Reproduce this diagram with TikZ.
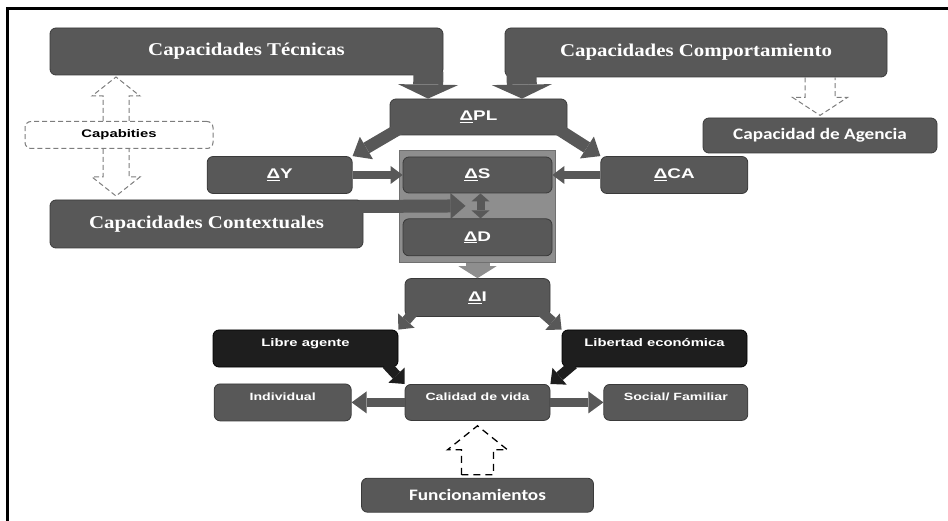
\documentclass[tikz,border=0pt]{standalone}
\usepackage{fontspec}
\usepackage{tikz}
\usetikzlibrary{arrows.meta,positioning,calc,fit,backgrounds}

\newfontfamily\serifhead[FakeStretch=1.16]{Liberation Serif}
\newfontfamily\widesans[FakeStretch=1.35]{Liberation Sans}
\newfontfamily\calsans[FakeStretch=1.2]{Carlito}

\definecolor{boxgray}{RGB}{88,88,88}
\definecolor{boxedge}{RGB}{58,58,58}
\definecolor{darkbox}{RGB}{30,30,30}
\definecolor{panelgray}{RGB}{142,142,142}
\definecolor{paneledge}{RGB}{112,112,112}
\definecolor{dashgray}{RGB}{125,125,125}

\begin{document}
\begin{tikzpicture}[x=1pt,y=-1pt,
		graybox/.style={rectangle,rounded corners=6pt,draw=boxedge,fill=boxgray,text=white,inner sep=0pt,line width=0.8pt},
		headbox/.style={graybox,font=\serifhead\bfseries\fontsize{18}{20}\selectfont},
		deltabox/.style={graybox,minimum width=147pt,minimum height=37pt,font=\widesans\bfseries\fontsize{14}{16}\selectfont},
		smallbox/.style={graybox,minimum height=36pt,text height=8pt,text depth=11pt,font=\widesans\bfseries\fontsize{10.5}{12}\selectfont},
		blackbox/.style={smallbox,fill=darkbox,draw=black,font=\widesans\bfseries\fontsize{11}{13}\selectfont},
		calbox/.style={graybox,font=\calsans\bfseries\fontsize{16}{18}\selectfont},
		capbox/.style={rectangle,rounded corners=6pt,draw=dashgray,dash pattern=on 5pt off 3pt,line width=1pt,text=black,minimum width=188pt,minimum height=27pt,font=\widesans\bfseries\fontsize{11}{13}\selectfont},
		panel/.style={rectangle,draw=paneledge,fill=panelgray,line width=1pt},
		fatarrow/.style args={#1/#2/#3}{draw=boxgray,line width=#1,-{Triangle[width=#2,length=#3,line width=0pt]}},
		fatboth/.style args={#1/#2/#3}{draw=boxgray,line width=#1,{Triangle[width=#2,length=#3,line width=0pt]}-{Triangle[width=#2,length=#3,line width=0pt]}},
		dashedarrow/.style={draw=dashgray,dash pattern=on 5pt off 3pt,line width=1pt}]

	\useasboundingbox (0,0) rectangle (948,521);
	\draw[line width=3pt] (7.5,521) -- (7.5,8.5) -- (948,8.5);

	\node[headbox,minimum width=393pt,minimum height=47pt] (Tec) at (246.5,51.5) {Capacidades Técnicas};
	\node[headbox,minimum width=382pt,minimum height=49pt] (Comp) at (696,52.5) {Capacidades Comportamiento};
	\node[deltabox,minimum width=177pt,minimum height=36pt] (PL) at (478.5,117) {\underline{Δ}PL};
	\node[deltabox,minimum width=149pt,minimum height=36pt] (S) at (477.5,175) {\underline{Δ}S};
	\node[deltabox,minimum width=145pt] (Y) [left=50pt of S] {\underline{Δ}Y};
	\node[deltabox] (CA) [right=48pt of S] {\underline{Δ}CA};
	\node[deltabox,minimum width=149pt] (D) [below=25pt of S] {\underline{Δ}D};
	\node[deltabox,minimum width=145pt,minimum height=38pt] (I) [below=22pt of D] {\underline{Δ}I};
	\node[headbox,minimum width=313pt,minimum height=48pt] (Ctx) at (206.5,224) {Capacidades Contextuales};
	\node[capbox] (Cap) at (119,135) {Capabities};
	\node[calbox,minimum width=234pt,minimum height=35pt] (Agencia) at (820,135.5) {Capacidad de Agencia};
	\node[blackbox,minimum width=185pt,minimum height=37pt] (Libre) at (305.5,348.5) {Libre agente};
	\node[blackbox,minimum width=185pt,minimum height=37pt] (Libertad) at (654.5,348.5) {Libertad económica};
	\node[smallbox,minimum width=145pt] (Cal) [below=67pt of I] {Calidad de vida};
	\node[smallbox,minimum width=137pt,minimum height=37pt] (Ind) [left=53pt of Cal] {Individual};
	\node[smallbox,minimum width=144pt] (Soc) [right=53pt of Cal] {Social/ Familiar};
	\node[calbox,minimum width=232pt,minimum height=34pt] (Fun) [below=57pt of Cal] {Funcionamientos};

	\begin{scope}[on background layer]
		\node[panel,fit=(S)(D),inner xsep=3pt,inner ysep=6pt] (core) {};
	\end{scope}

	\coordinate (ctxend) at ($(S.south)!.5!(D.north)+(-12pt,0pt)$);
	\coordinate (agtop) at (Agencia.north |- Comp.south);

	\draw[fatarrow=30pt/60pt/14pt] ([xshift=-15pt,yshift=4pt]Tec.south east) -- ([xshift=-50.5pt]PL.north);
	\draw[fatarrow=30pt/60pt/14pt] ([xshift=17pt,yshift=4pt]Comp.south west) -- ([xshift=43.5pt]PL.north);
	\draw[fatarrow=12pt/26pt/16pt] ([shift={(12pt,8pt)}]PL.south west) -- (Y.north east);
	\draw[fatarrow=12pt/26pt/16pt] ([shift={(-12pt,8pt)}]PL.south east) -- (CA.north west);
	\draw[fatarrow=8pt/18pt/12pt] (Y.east) -- (S.west);
	\draw[fatarrow=8pt/18pt/12pt] (CA.west) -- (S.east);
	\draw[fatarrow=13pt/26pt/15pt] ([shift={(-4pt,17.5pt)}]Ctx.east) -- (ctxend);
	\draw[fatboth=8pt/18pt/8pt] ([xshift=3pt]S.south) -- ([xshift=3pt]D.north);
	\draw[fatarrow=24pt/38pt/12pt,draw=panelgray] (core.south) -- (I.north);
	\draw[fatarrow=10pt/22pt/12pt] ([shift={(10pt,6pt)}]I.south west) -- (Libre.north east);
	\draw[fatarrow=10pt/22pt/12pt] ([shift={(-10pt,6pt)}]I.south east) -- (Libertad.north west);
	\draw[fatarrow=10pt/22pt/12pt,draw=darkbox] ([shift={(-12pt,3pt)}]Libre.south east) -- (Cal.north west);
	\draw[fatarrow=10pt/22pt/12pt,draw=darkbox] ([shift={(12pt,3pt)}]Libertad.south west) -- (Cal.north east);
	\draw[fatarrow=9pt/22pt/15pt] (Cal.west) -- (Ind.east);
	\draw[fatarrow=9pt/22pt/15pt] (Cal.east) -- (Soc.west);

	\draw[dashedarrow] ([xshift=-16pt]Cap.north) -- ++(0,-25) -- ++(-11,0) -- ++(24,-19) -- ++(24,19) -- ++(-11,0) -- ++(0,25);
	\draw[dashedarrow] ([xshift=-16pt]Cap.south) -- ++(0,28) -- ++(-11,0) -- ++(24,19) -- ++(24,-19) -- ++(-11,0) -- ++(0,-28);
	\draw[dashedarrow] ([xshift=-15pt]agtop) -- ++(0,20) -- ++(-12.5,0) -- ++(27.5,18) -- ++(27.5,-18) -- ++(-12.5,0) -- ++(0,-20);
	\draw[line width=1.3pt,dash pattern=on 7pt off 5pt] ([shift={(-16pt,3pt)}]Fun.north) -- ++(0,-25) -- ++(-14,0) -- ++(30,-24) -- ++(30,24) -- ++(-14,0) -- ++(0,25) -- cycle;
\end{tikzpicture}
\end{document}
